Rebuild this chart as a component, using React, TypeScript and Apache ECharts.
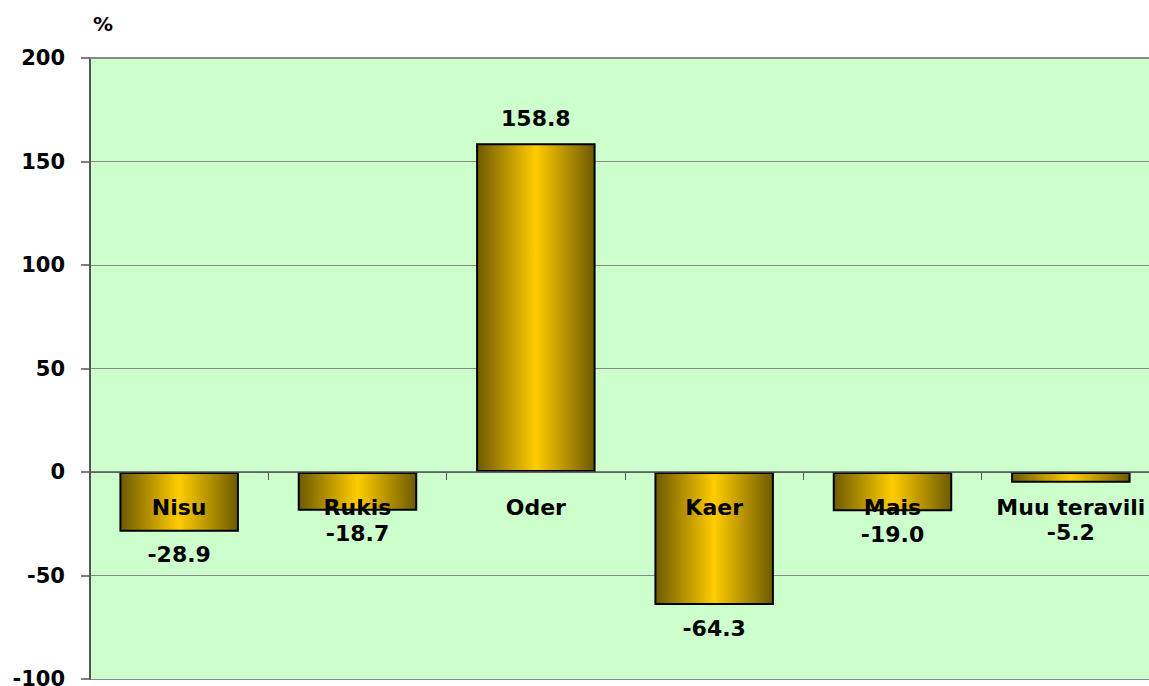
import React, { useEffect, useRef } from "react";
import * as echarts from "echarts";

const categories = ["Nisu", "Rukis", "Oder", "Kaer", "Mais", "Muu teravili"];
const values = [-28.9, -18.7, 158.8, -64.3, -19.0, -5.2];
const yMin = -100;
const yMax = 200;
const yInterval = 50;
const unitLabel = "%";

export default function App() {
  const ref = useRef<HTMLDivElement>(null);
  useEffect(() => {
    if (!ref.current) return;
    const chart = echarts.init(ref.current, null, { renderer: "svg" });
    const font = "'DejaVu Sans', Verdana, sans-serif";
    const barColor = {
      type: "linear",
      x: 0,
      y: 0,
      x2: 1,
      y2: 0,
      colorStops: [
        { offset: 0, color: "#6e5a00" },
        { offset: 0.5, color: "#ffcc00" },
        { offset: 1, color: "#6e5a00" },
      ],
    };
    const data = values.map((v, i) => {
      const neg = v < 0;
      const isLast = i === values.length - 1;
      return {
        value: v,
        label: {
          position: neg ? "bottom" : "top",
          distance: isLast ? 39 : neg ? 12 : 14,
        },
      };
    });
    const catLabels = categories.map((c) => [c, 0]);
    chart.setOption({
      animation: false,
      backgroundColor: "#ffffff",
      graphic: [
        {
          type: "text",
          left: 93,
          top: 14,
          style: {
            text: unitLabel,
            font: `bold 20px ${font}`,
            fill: "#000",
          },
        },
      ],
      grid: {
        left: 90,
        right: 0,
        top: 58,
        bottom: 7,
        show: true,
        backgroundColor: "#ccffcc",
        borderWidth: 0,
        outerBoundsMode: "none",
        containLabel: false,
      },
      xAxis: [
        {
          type: "category",
          data: categories,
          z: 10,
          axisLine: { onZero: true, lineStyle: { color: "#555555", width: 1.5 } },
          axisTick: { show: true, length: 8, lineStyle: { color: "#555555" } },
          axisLabel: { show: false },
          splitLine: { show: false },
        },
        {
          type: "category",
          position: "top",
          data: categories,
          axisLine: { show: true, onZero: false, lineStyle: { color: "#888888", width: 2 } },
          axisTick: { show: false },
          axisLabel: { show: false },
          splitLine: { show: false },
        },
      ],
      yAxis: {
        type: "value",
        min: yMin,
        max: yMax,
        interval: yInterval,
        axisLine: { show: true, lineStyle: { color: "#555555", width: 2 } },
        axisTick: { show: true, length: 9, lineStyle: { color: "#555555", width: 1.5 } },
        axisLabel: {
          margin: 25,
          color: "#000",
          fontWeight: "bold",
          fontSize: 21,
          fontFamily: font,
        },
        splitLine: { show: true, lineStyle: { color: "#888888", width: 1 } },
      },
      series: [
        {
          type: "bar",
          data,
          barWidth: "67%",
          itemStyle: {
            color: barColor,
            borderColor: "#000",
            borderWidth: 2,
          },
          label: {
            show: true,
            color: "#000",
            fontWeight: "bold",
            fontSize: 22,
            fontFamily: font,
            formatter: (p: any) => Number(p.value).toFixed(1),
          },
        },
        {
          type: "scatter",
          data: catLabels,
          symbolSize: 0,
          z: 10,
          silent: true,
          itemStyle: { opacity: 1 },
          label: {
            show: true,
            position: "bottom",
            distance: 24,
            color: "#000",
            fontWeight: "bold",
            fontSize: 22,
            fontFamily: font,
            formatter: (p: any) => p.value[0],
          },
        },
      ],
    });
    return () => chart.dispose();
  }, []);
  return (
    <div
      style={{
        position: "absolute",
        left: 0,
        top: 0,
        width: 1149,
        height: 686,
        overflow: "hidden",
      }}
    >
      <div ref={ref} style={{ width: 1160, height: 686 }} />
    </div>
  );
}
